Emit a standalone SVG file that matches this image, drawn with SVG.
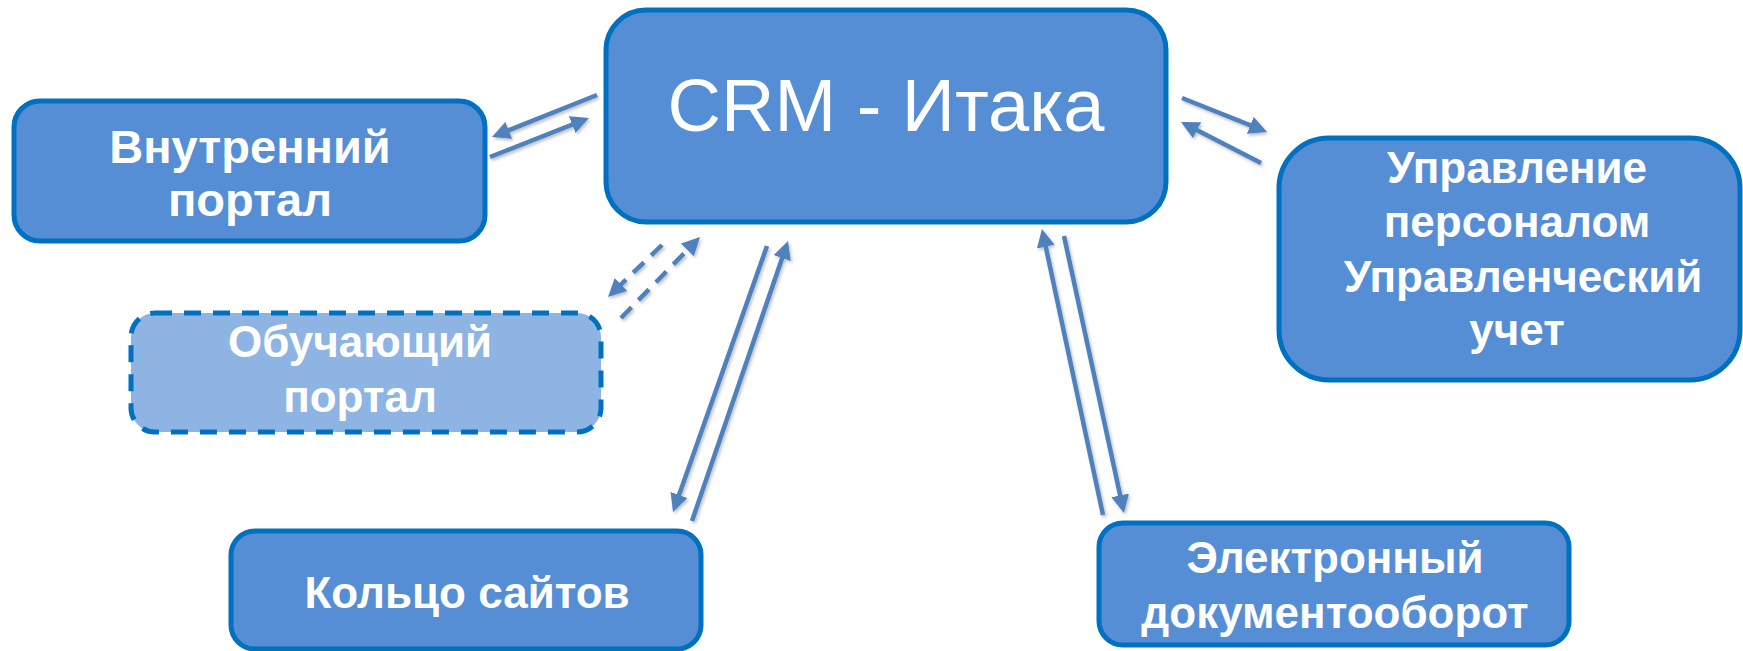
<svg xmlns="http://www.w3.org/2000/svg" width="1743" height="651" viewBox="0 0 1743 651">
<style>
.box{fill:#558ED5;stroke:#0070C0;stroke-width:5}
.dbox{fill:#8EB4E3;stroke:#0070C0;stroke-width:5;stroke-dasharray:17 12}
.t{font-family:"Liberation Sans",Arial,sans-serif;font-weight:bold;font-size:44px;fill:#FFFFFF;text-anchor:middle}
.tb{font-size:47px}
.tc{font-family:"Liberation Sans",Arial,sans-serif;font-size:74px;fill:#FFFFFF;text-anchor:middle}
.c{stroke:#4F81BD;stroke-width:4.5;fill:none;marker-end:url(#ah)}
.cd{stroke:#4F81BD;stroke-width:4.5;fill:none;marker-end:url(#ah);stroke-dasharray:15 10}
</style>
<defs>
<marker id="ah" markerUnits="userSpaceOnUse" markerWidth="20" markerHeight="18" viewBox="0 0 20 18" refX="13" refY="9" orient="auto">
<path d="M0,0 L18,9 L0,18 z" fill="#4F81BD"/>
</marker>
<filter id="sh" x="-20%" y="-20%" width="140%" height="140%">
<feDropShadow dx="1.5" dy="2" stdDeviation="1.5" flood-color="#000" flood-opacity="0.25"/>
</filter>
</defs>
<g id="connectors" filter="url(#sh)">
<line class="c" x1="597" y1="95" x2="496.6" y2="135.1"/>
<line class="c" x1="490" y1="157" x2="584.3" y2="119.8"/>
<line class="c" x1="1182" y1="98" x2="1262.4" y2="130.1"/>
<line class="c" x1="1261" y1="163" x2="1185.5" y2="124.3"/>
<line class="cd" x1="662" y1="245" x2="611.6" y2="293.5"/>
<line class="cd" x1="621" y1="318" x2="696.5" y2="240.6"/>
<line class="c" x1="767" y1="246" x2="674.7" y2="507.3"/>
<line class="c" x1="692" y1="521" x2="786.4" y2="245.7"/>
<line class="c" x1="1103" y1="515" x2="1043" y2="233.9"/>
<line class="c" x1="1064" y1="236" x2="1122.9" y2="508.1"/>
</g>
<g id="crm">
<rect class="box" x="606" y="10" width="560" height="212" rx="40"/>
<text class="tc" x="886" y="131">CRM - Итака</text>
</g>
<g id="inner-portal">
<rect class="box" x="14" y="101" width="471" height="140" rx="26"/>
<text class="t tb" x="250" y="163">Внутренний</text>
<text class="t tb" x="250" y="216">портал</text>
</g>
<g id="hr">
<rect class="box" x="1279" y="138" width="461" height="242" rx="50"/>
<text class="t" x="1517" y="183">Управление</text>
<text class="t" x="1517" y="237">персоналом</text>
<text class="t" x="1523" y="292">Управленческий</text>
<text class="t" x="1517" y="345">учет</text>
</g>
<g id="learning-portal">
<rect class="dbox" x="131" y="313" width="470" height="119" rx="24"/>
<text class="t" x="360" y="357">Обучающий</text>
<text class="t" x="360" y="412">портал</text>
</g>
<g id="sites">
<rect class="box" x="231" y="531" width="470" height="118" rx="24"/>
<text class="t" x="467" y="608">Кольцо сайтов</text>
</g>
<g id="edo">
<rect class="box" x="1099" y="523" width="470" height="122" rx="24"/>
<text class="t" x="1335" y="573">Электронный</text>
<text class="t" x="1335" y="628">документооборот</text>
</g>
</svg>
